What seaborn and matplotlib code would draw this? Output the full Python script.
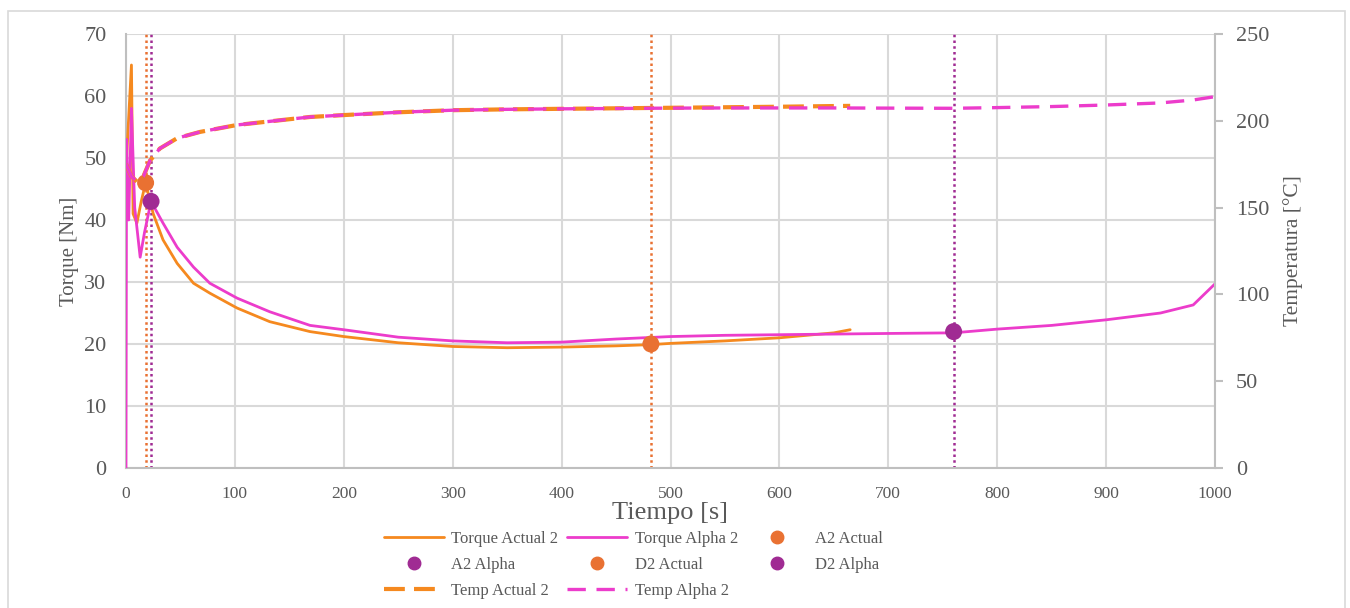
import numpy as np
import pandas as pd
import matplotlib.pyplot as plt
import seaborn as sns
from matplotlib.lines import Line2D
from matplotlib.patches import Rectangle

# Torque Actual 2
t_act = [0, 2, 5, 6.5, 10, 14, 18, 25, 34, 47, 62, 77, 102, 132, 169, 200, 250, 300, 350,
         400, 450, 482, 500, 550, 600, 650, 665]
torque_act = [48, 55, 65, 41, 39.5, 43, 46, 41, 36.8, 33, 29.8, 28.2, 25.8, 23.6, 22, 21.2,
              20.2, 19.6, 19.4, 19.5, 19.7, 19.9, 20.1, 20.5, 21, 21.8, 22.3]

# Torque Alpha 2
t_alp = [0, 0.5, 2.5, 5, 8, 13, 17, 23, 34, 47, 62, 77, 102, 132, 169, 200, 250, 300, 350,
         400, 450, 500, 550, 600, 650, 700, 760, 800, 850, 900, 950, 980, 1000]
torque_alp = [0, 53, 40, 58, 42, 34, 38, 43, 39.5, 35.6, 32.4, 29.8, 27.4, 25.2, 23, 22.3,
              21.1, 20.5, 20.2, 20.3, 20.8, 21.2, 21.4, 21.5, 21.6, 21.7, 21.8, 22.4, 23,
              23.9, 25, 26.3, 29.7]

# Temperaturas
t_temp_act = [0, 5, 10, 16, 22, 31, 47, 68, 102, 144, 169, 200, 250, 300, 350, 400, 450,
              500, 550, 600, 650, 665]
temp_act = [175, 168, 165, 168, 177, 184, 190, 193.6, 197.6, 200.5, 202.2, 203.3, 204.9,
            206.1, 206.6, 206.9, 207.2, 207.5, 207.8, 208.1, 208.5, 208.6]
t_temp_alp = [0, 5, 10, 16, 22, 31, 47, 68, 102, 144, 169, 200, 250, 300, 350, 400, 450,
              500, 550, 600, 650, 700, 760, 800, 850, 900, 950, 980, 1000]
temp_alp = [175, 168, 165, 168, 177, 184, 190, 193.6, 197.6, 200.5, 202.2, 203.3, 204.9,
            206.1, 206.6, 206.9, 207.1, 207.3, 207.4, 207.4, 207.4, 207.3, 207.2, 207.6,
            208.2, 209.1, 210.3, 212, 213.9]

# Puntos A2 / D2
a2_actual = (18, 46)
a2_alpha = (23, 43)
d2_actual = (482, 20)
d2_alpha = (760, 22)

c_act = "#F5891F"
c_alp = "#EC3CCB"
c_pt_act = "#E97132"
c_pt_alp = "#A02B93"
gris = "#595959"

sns.set_style("white")
plt.rcParams['font.family'] = ['Liberation Serif', 'DejaVu Serif']

fig = plt.figure(figsize=(13.5, 6.08), dpi=100)
ax = fig.add_axes([126 / 1350, 1 - 468 / 608, (1215 - 126) / 1350, (468 - 34) / 608])
ax2 = ax.twinx()

# lineas verticales punteadas
for (x, _), c in [(a2_actual, c_pt_act), (a2_alpha, c_pt_alp), (d2_actual, c_pt_act), (d2_alpha, c_pt_alp)]:
    ax.axvline(x, color=c, lw=1.8, ls=(0, (1, 1.3)), zorder=1)

sns.lineplot(ax=ax, x=t_act, y=torque_act, color=c_act, lw=2, sort=False, zorder=3)
sns.lineplot(ax=ax, x=t_alp, y=torque_alp, color=c_alp, lw=2, sort=False, zorder=3)

for (x, y), c in [(a2_actual, c_pt_act), (a2_alpha, c_pt_alp), (d2_actual, c_pt_act), (d2_alpha, c_pt_alp)]:
    sns.scatterplot(ax=ax, x=[x], y=[y], color=c, s=150, edgecolor="none", zorder=5)

sns.lineplot(ax=ax2, x=t_temp_act, y=temp_act, color=c_act, lw=3, sort=False)
ax2.lines[-1].set_dashes([5, 2.2])
sns.lineplot(ax=ax2, x=t_temp_alp, y=temp_alp, color=c_alp, lw=2.4, sort=False)
ax2.lines[-1].set_dashes([5.5, 3.2])

ax.set_xlim(0, 1000)
ax.set_ylim(0, 70)
ax2.set_ylim(0, 250)
ax.set_xticks(np.arange(0, 1001, 100))
ax.set_yticks(np.arange(0, 71, 10))
ax2.set_yticks(np.arange(0, 251, 50))

ax.grid(True, color="#D9D9D9", lw=1.5)
ax.set_axisbelow(True)
ax.spines["top"].set_visible(False)
ax2.spines["top"].set_visible(False)
for sp in ["left", "bottom"]:
    ax.spines[sp].set_color("#BFBFBF")
    ax.spines[sp].set_linewidth(1.5)
ax.spines["right"].set_visible(False)
ax2.spines["left"].set_visible(False)
ax2.spines["bottom"].set_visible(False)
ax2.spines["right"].set_color("#BFBFBF")
ax2.spines["right"].set_linewidth(1.5)

ax.tick_params(axis="y", length=0, labelsize=16, labelcolor=gris, pad=14)
ax.tick_params(axis="x", length=0, labelsize=12.5, labelcolor=gris, pad=13)
ax2.tick_params(axis="y", length=6, width=1.5, color="#BFBFBF", direction="out",
                labelsize=16, labelcolor=gris, pad=9)

ax.set_xlabel("Tiempo [s]", fontsize=19, color=gris, labelpad=0)
ax.set_ylabel("Torque [Nm]", fontsize=15, color=gris, labelpad=4)
ax2.set_ylabel("Temperatura [°C]", fontsize=15.5, color=gris, labelpad=10)

# leyenda
h = {
    "Torque Actual 2": Line2D([], [], color=c_act, lw=2),
    "Torque Alpha 2": Line2D([], [], color=c_alp, lw=2),
    "A2 Actual": Line2D([], [], color=c_pt_act, ls="none", marker="o", ms=9),
    "A2 Alpha": Line2D([], [], color=c_pt_alp, ls="none", marker="o", ms=9),
    "D2 Actual": Line2D([], [], color=c_pt_act, ls="none", marker="o", ms=9),
    "D2 Alpha": Line2D([], [], color=c_pt_alp, ls="none", marker="o", ms=9),
    "Temp Actual 2": Line2D([], [], color=c_act, lw=3, dashes=[5, 2.2]),
    "Temp Alpha 2": Line2D([], [], color=c_alp, lw=2.4, dashes=[5.5, 3.2]),
}
orden = ["Torque Actual 2", "A2 Alpha", "Temp Actual 2", "Torque Alpha 2", "D2 Actual",
         "Temp Alpha 2", "A2 Actual", "D2 Alpha"]
leg = fig.legend([h[k] for k in orden], orden, ncol=3, loc="center",
                 bbox_to_anchor=(0.469, 0.071), frameon=False, fontsize=12,
                 handlelength=3.6, columnspacing=0.55, labelspacing=0.6, handletextpad=0.45)
for txt in leg.get_texts():
    txt.set_color(gris)

fig.patches.append(Rectangle((8 / 1350, -0.01), (1345 - 8) / 1350, 1 - 11 / 608 + 0.01,
                             transform=fig.transFigure, fill=False, edgecolor="#D9D9D9", lw=1.2))

fig.savefig("out.png", dpi=100)
